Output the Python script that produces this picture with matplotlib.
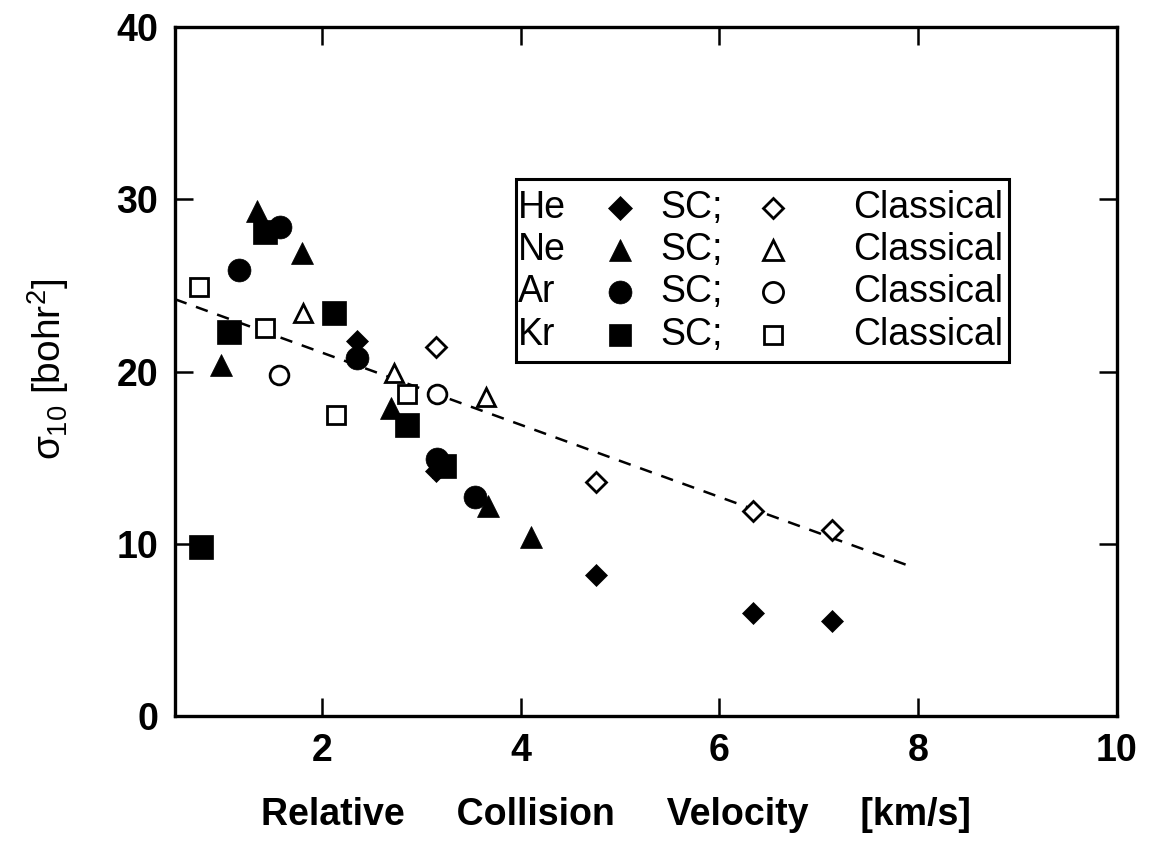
import matplotlib
matplotlib.use("Agg")
import matplotlib.pyplot as plt

plt.rcParams['font.family'] = ['Liberation Sans', 'DejaVu Sans']
plt.rcParams['mathtext.fontset'] = 'custom'
plt.rcParams['mathtext.rm'] = 'Liberation Sans'
plt.rcParams['mathtext.it'] = 'Liberation Sans'
plt.rcParams['mathtext.bf'] = 'Liberation Sans:bold'

# ---- data ----
he_sc_x = [2.35, 3.15, 4.76, 6.34, 7.13]
he_sc_y = [21.8, 14.2, 8.2, 6.0, 5.5]
he_cl_x = [3.15, 4.76, 6.34, 7.13]
he_cl_y = [21.4, 13.6, 11.9, 10.8]

ne_sc_x = [1.35, 1.80, 0.98, 2.70, 3.67, 4.11]
ne_sc_y = [29.3, 26.9, 20.4, 17.9, 12.2, 10.4]
ne_cl_x = [1.81, 2.73, 3.65]
ne_cl_y = [23.4, 19.9, 18.5]

ar_sc_x = [1.58, 1.17, 2.35, 3.16, 3.54]
ar_sc_y = [28.4, 25.9, 20.8, 14.9, 12.7]
ar_cl_x = [1.57, 3.16]
ar_cl_y = [19.8, 18.7]

kr_sc_x = [1.43, 2.12, 1.07, 2.86, 3.23, 0.78]
kr_sc_y = [28.1, 23.4, 22.3, 16.9, 14.5, 9.8]
kr_cl_x = [0.76, 1.43, 2.14, 2.86]
kr_cl_y = [24.9, 22.5, 17.5, 18.7]

fit_x = [0.52, 7.92]
fit_y = [24.2, 8.7]

x_ticks = [2, 4, 6, 8, 10]
y_ticks = [0, 10, 20, 30, 40]

gases = ["He", "Ne", "Ar", "Kr"]
sc_label = "SC;"
cl_label = "Classical"

# ---- figure ----
fig = plt.figure(figsize=(11.5, 8.6), dpi=100)
ax = fig.add_axes([0.152, 0.1674, 0.819, 0.8012])

series = [
    (he_sc_x, he_sc_y, he_cl_x, he_cl_y, 'D', 11.5, 10.0),
    (ne_sc_x, ne_sc_y, ne_cl_x, ne_cl_y, '^', 16.0, 13.0),
    (ar_sc_x, ar_sc_y, ar_cl_x, ar_cl_y, 'o', 16.5, 13.5),
    (kr_sc_x, kr_sc_y, kr_cl_x, kr_cl_y, 's', 17.0, 13.0),
]

ax.plot(fit_x, fit_y, color='black', lw=1.8, linestyle=(0, (5, 4)), zorder=1)

for sx, sy, cx, cy, m, ms_f, ms_o in series:
    ax.plot(cx, cy, linestyle='none', marker=m, ms=ms_o, mfc='white',
            mec='black', mew=2.0, zorder=2)
for sx, sy, cx, cy, m, ms_f, ms_o in series:
    ax.plot(sx, sy, linestyle='none', marker=m, ms=ms_f, mfc='black',
            mec='black', mew=0.5, zorder=3)

ax.set_xlim(0.52, 10)
ax.set_ylim(0, 40)
ax.set_xticks(x_ticks)
ax.set_yticks(y_ticks)
ax.set_xticklabels([str(t) for t in x_ticks])
ax.set_yticklabels([str(t) for t in y_ticks])
ax.tick_params(direction='in', length=13, width=1.8, top=True, right=True,
               labelsize=27, pad=12)
for lab in ax.get_xticklabels() + ax.get_yticklabels():
    lab.set_fontweight('bold')
for s in ax.spines.values():
    s.set_linewidth(2.4)

fig.text(0.536, 0.052, "Relative     Collision     Velocity     [km/s]",
         fontsize=27, fontweight='bold', ha='center', va='center')
fig.text(0.042, 0.570, r"$\sigma_{10}$ [bohr$^{2}$]", fontsize=28,
         rotation=90, ha='center', va='center')

# ---- custom legend box ----
T = ax.transAxes
box = plt.Rectangle((0.362, 0.514), 0.524, 0.265, transform=T, fill=False,
                    ec='black', lw=2.2, zorder=5)
ax.add_patch(box)
row_y = [0.737, 0.676, 0.615, 0.553]
leg_f = [12.5, 16.0, 16.5, 16.0]
leg_o = [10.0, 14.0, 14.5, 13.0]
for i, (g, s) in enumerate(zip(gases, series)):
    m = s[4]
    y = row_y[i]
    ax.text(0.364, y, g, transform=T, fontsize=27, va='center', ha='left', zorder=6)
    ax.plot([0.473], [y], transform=T, marker=m, ms=leg_f[i], mfc='black',
            mec='black', mew=0.5, linestyle='none', zorder=6, clip_on=False)
    ax.text(0.515, y, sc_label, transform=T, fontsize=27, va='center', ha='left', zorder=6)
    ax.plot([0.635], [y], transform=T, marker=m, ms=leg_o[i], mfc='white',
            mec='black', mew=2.0, linestyle='none', zorder=6, clip_on=False)
    ax.text(0.879, y, cl_label, transform=T, fontsize=27, va='center', ha='right', zorder=6)

fig.savefig("out.png", dpi=100)
